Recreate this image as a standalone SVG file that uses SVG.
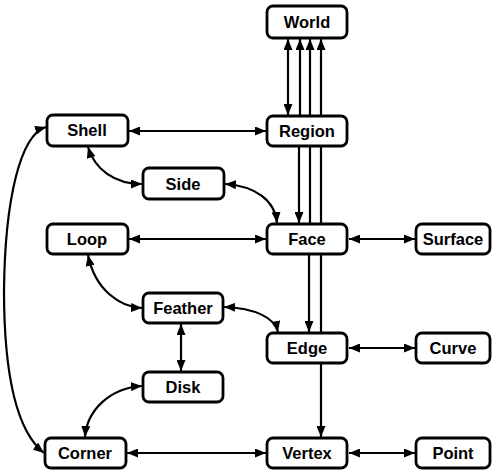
<svg xmlns="http://www.w3.org/2000/svg" width="492" height="474" viewBox="0 0 492 474">
  <style>
    .box { fill: #fff; stroke: #000; stroke-width: 2.8; }
    .lbl { font-family: "Liberation Sans", Arial, sans-serif; font-weight: bold; font-size: 16.5px; text-anchor: middle; dominant-baseline: central; fill: #000; }
    .c { fill: none; stroke: #000; stroke-width: 2.2; }
    .both { marker-start: url(#ah); marker-end: url(#ah); }
    .end { marker-end: url(#ah); }
  </style>
  <defs>
    <marker id="ah" markerUnits="userSpaceOnUse" viewBox="0 0 11 9" refX="11" refY="4.5" markerWidth="11" markerHeight="9" orient="auto-start-reverse">
      <path d="M0,0 L11,4.5 L0,9 Z" fill="#000"/>
    </marker>
  </defs>
  <rect width="492" height="474" fill="#fff"/>

  <g id="connectors">
    <!-- World / Region verticals -->
    <path class="c both" d="M288 39 V115"/>
    <path class="c end" d="M300 116 V39"/>
    <path class="c end" d="M310 116 V39"/>
    <path class="c end" d="M321 116 V39"/>
    <!-- Region / Face verticals -->
    <path class="c end" d="M299 147 V223"/>
    <path class="c" d="M310 147 V224"/>
    <path class="c" d="M321 147 V224"/>
    <!-- Face / Edge verticals -->
    <path class="c end" d="M309 255 V332"/>
    <path class="c" d="M321 255 V333"/>
    <!-- Edge / Vertex -->
    <path class="c end" d="M321 364 V437"/>
    <!-- horizontal pairs -->
    <path class="c both" d="M129 131 H266"/>
    <path class="c both" d="M129 239 H266"/>
    <path class="c both" d="M349 239 H415"/>
    <path class="c both" d="M349 348 H415"/>
    <path class="c both" d="M127 453 H266"/>
    <path class="c both" d="M349 453 H415"/>
    <!-- curves -->
    <path class="c both" d="M88 147 C95 170 115 184 142 184"/>
    <path class="c both" d="M225 184 C255 186 275 200 277 223"/>
    <path class="c both" d="M88 255 C95 290 120 307 142 308"/>
    <path class="c both" d="M224 307 C255 308 275 318 278 332"/>
    <path class="c both" d="M181 324 V371"/>
    <path class="c both" d="M142 386 C110 388 87 410 85 437"/>
    <path class="c both" d="M46 127 C20 135 5 200 4 290 C4 370 15 430 44 453"/>
  </g>

  <g id="world"><rect class="box" x="267" y="6" width="80" height="32" rx="6"/><text class="lbl" x="307" y="22">World</text></g>
  <g id="region"><rect class="box" x="267" y="116" width="80" height="30" rx="6"/><text class="lbl" x="307" y="131">Region</text></g>
  <g id="shell"><rect class="box" x="47" y="115" width="81" height="31" rx="6"/><text class="lbl" x="87" y="130">Shell</text></g>
  <g id="side"><rect class="box" x="143" y="168" width="81" height="31" rx="6"/><text class="lbl" x="183" y="184">Side</text></g>
  <g id="loop"><rect class="box" x="47" y="224" width="81" height="30" rx="6"/><text class="lbl" x="87" y="239">Loop</text></g>
  <g id="face"><rect class="box" x="267" y="224" width="80" height="30" rx="6"/><text class="lbl" x="307" y="239">Face</text></g>
  <g id="surface"><rect class="box" x="416" y="224" width="74" height="30" rx="6"/><text class="lbl" x="453" y="239">Surface</text></g>
  <g id="feather"><rect class="box" x="143" y="293" width="80" height="30" rx="6"/><text class="lbl" x="183" y="308">Feather</text></g>
  <g id="edge"><rect class="box" x="267" y="333" width="80" height="30" rx="6"/><text class="lbl" x="307" y="348">Edge</text></g>
  <g id="curve"><rect class="box" x="416" y="333" width="74" height="30" rx="6"/><text class="lbl" x="453" y="348">Curve</text></g>
  <g id="disk"><rect class="box" x="143" y="372" width="80" height="30" rx="6"/><text class="lbl" x="183" y="387">Disk</text></g>
  <g id="corner"><rect class="box" x="45" y="438" width="81" height="30" rx="6"/><text class="lbl" x="85" y="453">Corner</text></g>
  <g id="vertex"><rect class="box" x="267" y="438" width="80" height="30" rx="6"/><text class="lbl" x="307" y="453">Vertex</text></g>
  <g id="point"><rect class="box" x="416" y="438" width="74" height="30" rx="6"/><text class="lbl" x="453" y="453">Point</text></g>
</svg>
